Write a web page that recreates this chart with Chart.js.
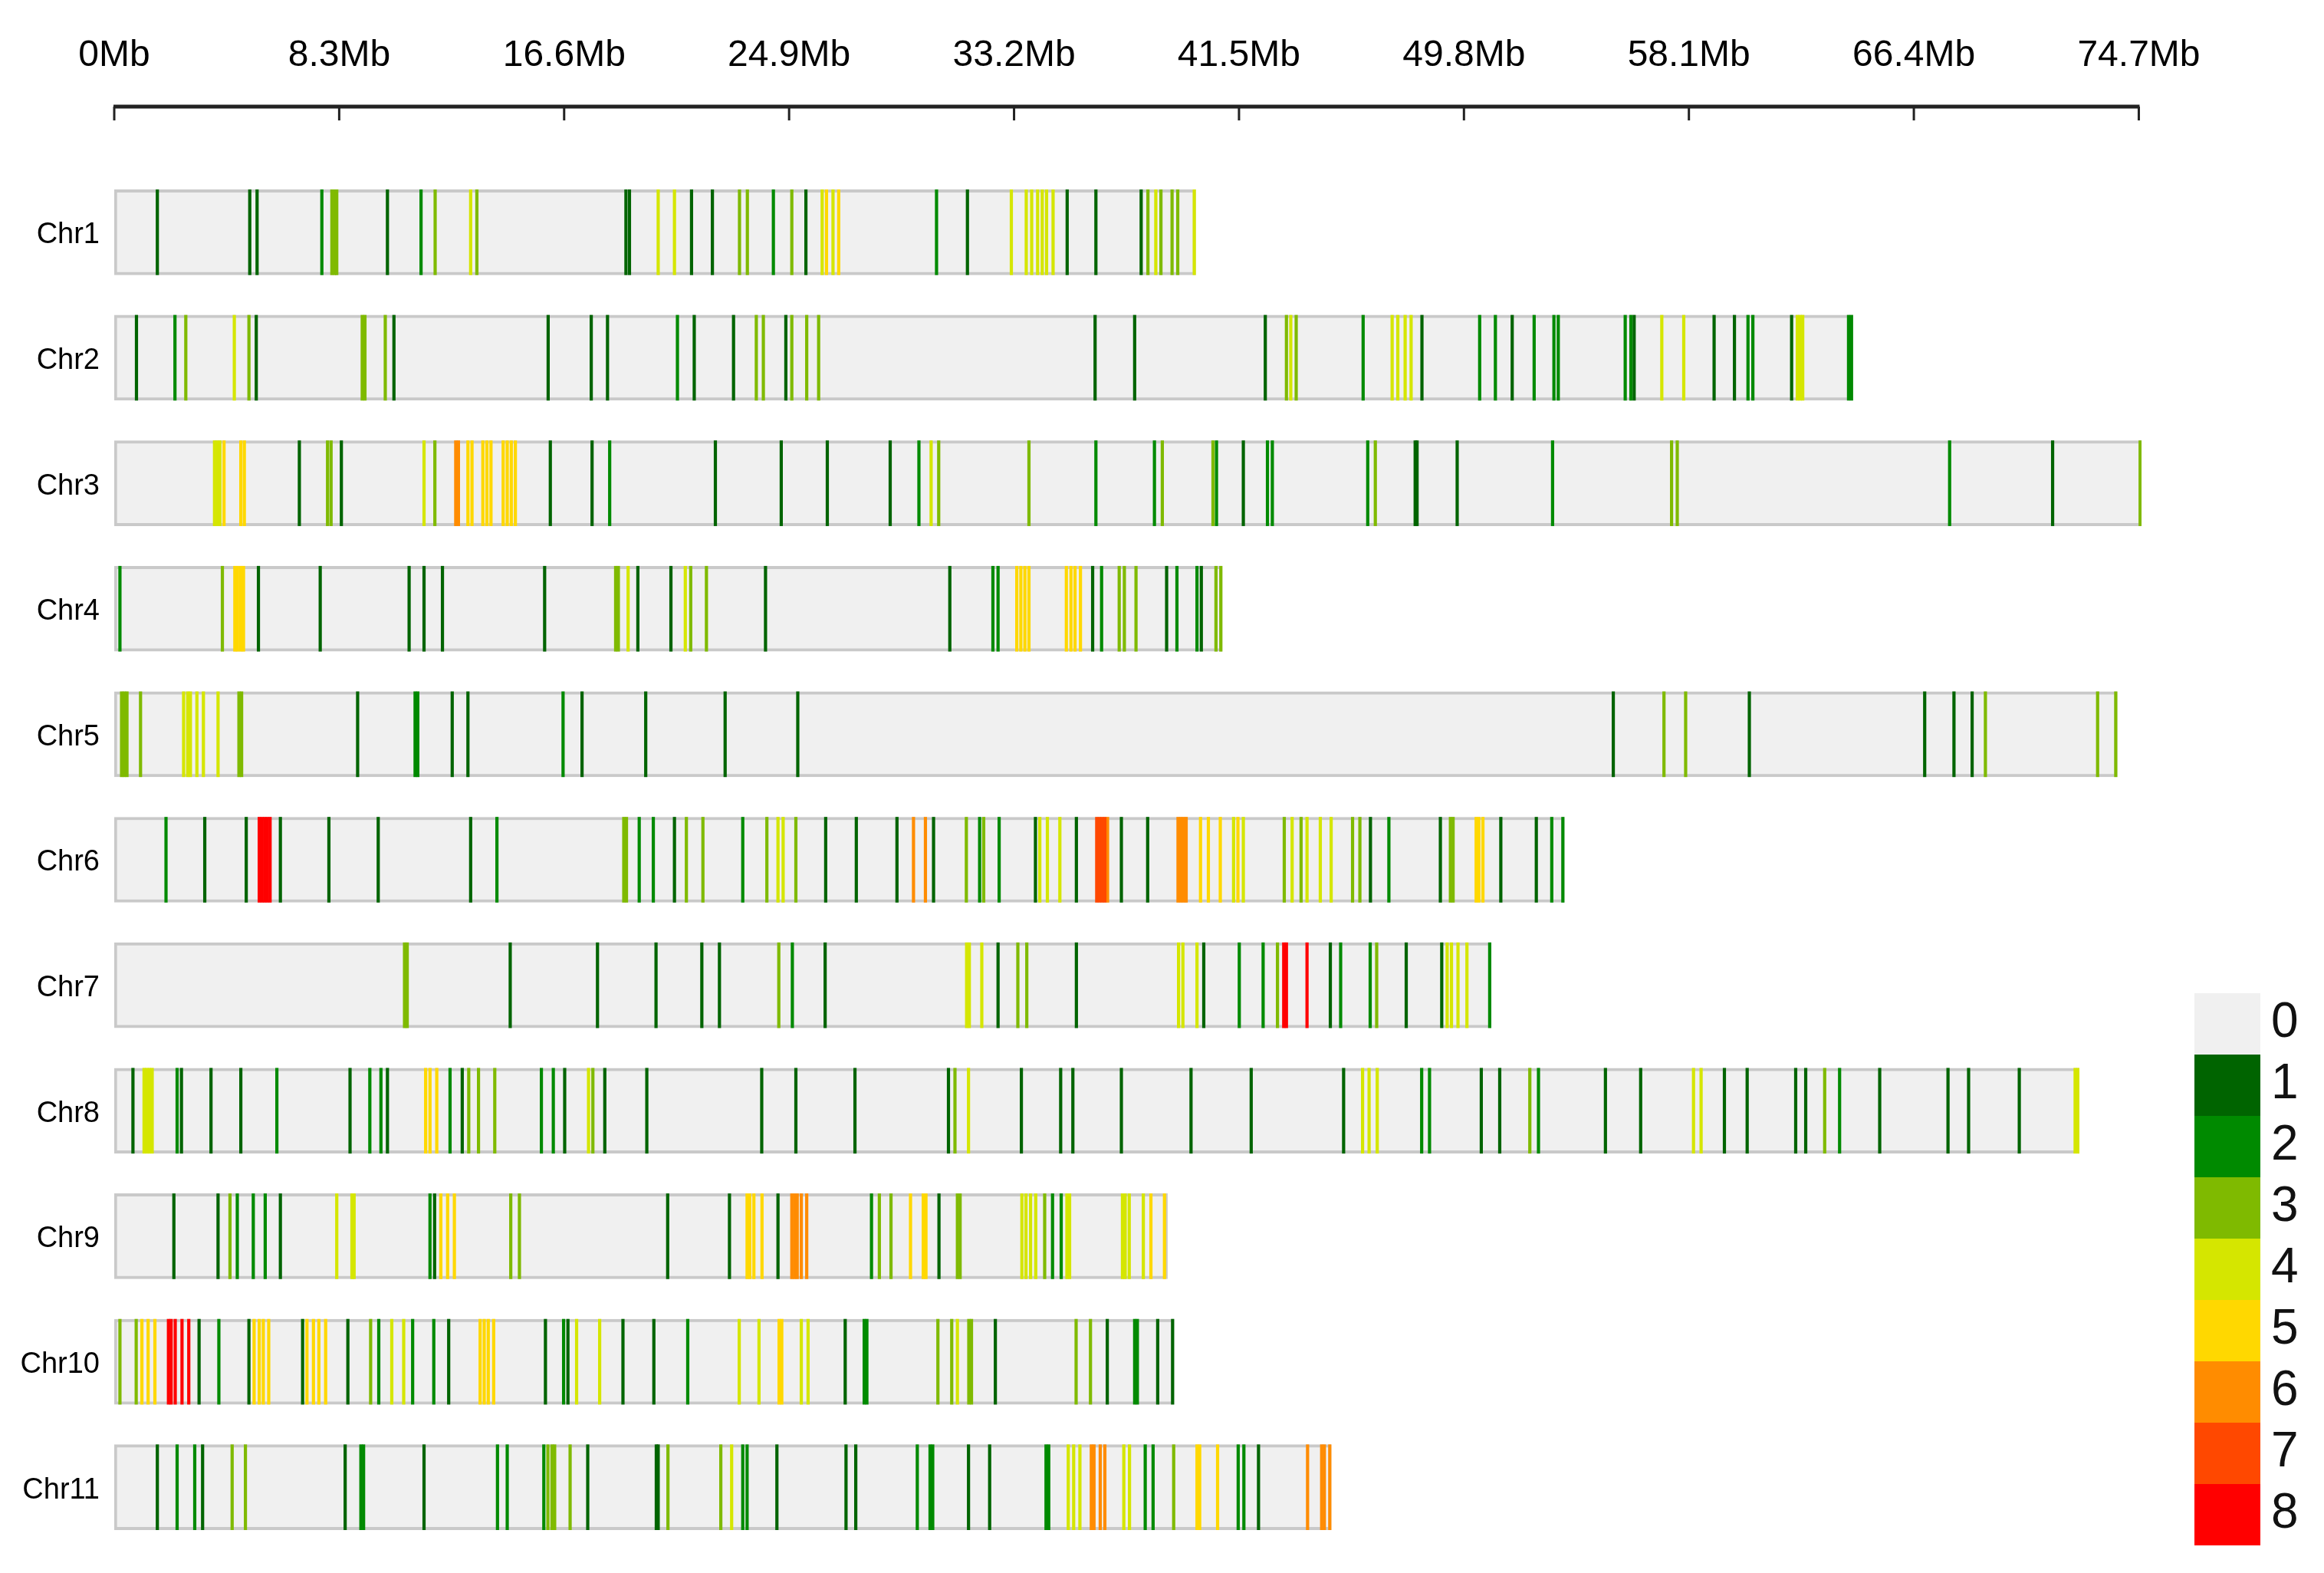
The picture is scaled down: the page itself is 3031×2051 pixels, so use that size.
<!DOCTYPE html>
<html>
<head>
<meta charset="utf-8">
<script src="https://cdn.jsdelivr.net/npm/chart.js@4.4.1/dist/chart.umd.min.js"></script>
<style>
  html, body { margin: 0; padding: 0; background: #fff; }
  #wrap { position: relative; width: 3031px; height: 2051px; }
  #legend { position: absolute; left: 2862px; top: 1295px; }
  .cell { position: absolute; left: 0; width: 86px; height: 80px; }
  .lab { position: absolute; left: 100px; width: 60px; height: 80px; line-height: 80px;
         font: 64px "Liberation Sans", Arial, sans-serif; color: #111; }
</style>
</head>
<body>
<div id="wrap">
  <canvas id="densityChart" width="3031" height="2051"></canvas>
  <div id="legend"></div>
</div>
<script>
// chromosome names and lengths (Mb)
var chromNames = ["Chr1", "Chr2", "Chr3", "Chr4", "Chr5", "Chr6", "Chr7", "Chr8", "Chr9", "Chr10", "Chr11"];
var chromLengths = [39.9, 64.15, 74.8, 40.88, 73.9, 53.5, 50.8, 72.5, 38.86, 39.1, 44.9];

// axis ticks
var tickValues = [0, 8.3, 16.6, 24.9, 33.2, 41.5, 49.8, 58.1, 66.4, 74.7];
var tickLabels = ["0Mb", "8.3Mb", "16.6Mb", "24.9Mb", "33.2Mb", "41.5Mb", "49.8Mb", "58.1Mb", "66.4Mb", "74.7Mb"];

// density levels and colours
var levels = [0, 1, 2, 3, 4, 5, 6, 7, 8];
var levelColors = ["#f0f0f0", "#006400", "#008a00", "#7fba00", "#d5e600", "#ffd800", "#ff8c00", "#ff4800", "#ff0000"];

// [position Mb, density level] for each chromosome
var chr1Marks = [[1.54,1],[4.95,1],[5.22,1],[7.61,2],[7.98,3],[8.08,3],[8.16,3],[10.03,1],[11.27,2],[11.79,3],[13.1,4],[13.33,3],[18.83,1],[18.96,1],[20.02,4],[20.62,4],[21.25,1],[22.02,1],[23.02,3],[23.31,3],[24.27,2],[24.95,3],[25.47,1],[26.07,4],[26.23,5],[26.47,4],[26.68,5],[30.29,2],[31.43,1],[33.05,4],[33.6,4],[33.8,4],[34.02,4],[34.19,4],[34.35,4],[34.59,4],[35.11,1],[36.17,1],[37.84,1],[38.09,3],[38.38,4],[38.57,3],[38.98,3],[39.19,3],[39.8,4]];
var chr2Marks = [[0.77,1],[2.19,2],[2.59,3],[4.38,4],[4.92,3],[5.19,1],[9.1,3],[9.2,3],[9.95,3],[10.27,1],[15.96,1],[17.55,1],[18.15,1],[20.73,2],[21.35,1],[22.8,1],[23.64,3],[23.9,3],[24.73,1],[24.95,3],[25.5,3],[25.94,3],[36.14,1],[37.6,1],[42.42,1],[43.2,3],[43.36,4],[43.56,3],[46.03,2],[47.1,4],[47.31,4],[47.58,4],[47.8,4],[48.2,1],[50.33,2],[50.91,2],[51.53,1],[52.34,2],[53.07,2],[53.23,2],[55.7,2],[55.91,2],[56.03,1],[57.05,4],[57.86,4],[58.98,1],[59.73,1],[60.23,2],[60.41,2],[61.84,1],[62.05,4],[62.15,4],[62.25,4],[63.94,2],[64.05,2]];
var chr3Marks = [[3.65,4],[3.75,4],[3.85,4],[4.0,5],[4.62,5],[4.75,5],[6.78,1],[7.82,3],[7.95,3],[8.33,1],[11.38,4],[11.78,3],[12.55,6],[12.65,6],[13.0,5],[13.15,5],[13.55,5],[13.7,5],[13.85,5],[14.3,5],[14.45,5],[14.6,5],[14.75,5],[16.04,1],[17.58,1],[18.23,2],[22.13,1],[24.56,1],[26.26,1],[28.58,1],[29.64,2],[30.09,4],[30.37,3],[33.7,3],[36.17,2],[38.33,2],[38.62,3],[40.49,3],[40.62,2],[41.61,1],[42.5,2],[42.68,2],[46.2,2],[46.48,3],[47.95,1],[48.02,1],[49.5,1],[53.02,2],[57.41,3],[57.62,3],[67.67,2],[71.47,1],[74.7,3]];
var chr4Marks = [[0.16,2],[3.94,3],[4.4,5],[4.5,5],[4.62,5],[4.72,5],[5.27,1],[7.55,1],[10.83,1],[11.38,1],[12.06,1],[15.83,1],[18.45,3],[18.55,3],[18.91,4],[19.27,1],[20.49,1],[21.02,4],[21.22,3],[21.8,3],[23.98,1],[30.78,1],[32.37,2],[32.56,2],[33.25,5],[33.4,5],[33.55,5],[33.7,5],[35.08,5],[35.25,5],[35.4,5],[35.6,5],[36.05,1],[36.38,2],[37.03,3],[37.22,3],[37.65,3],[38.78,1],[39.16,2],[39.9,2],[40.06,1],[40.6,3],[40.78,3]];
var chr5Marks = [[0.22,3],[0.32,3],[0.42,3],[0.92,3],[2.51,4],[2.66,4],[2.76,4],[3.0,4],[3.24,4],[3.78,4],[4.55,3],[4.65,3],[8.93,1],[11.05,2],[11.15,2],[12.42,1],[13.0,1],[16.51,2],[17.21,1],[19.56,1],[22.49,1],[25.17,1],[55.26,1],[57.13,3],[57.93,3],[60.28,1],[66.75,1],[67.83,1],[68.5,1],[68.99,3],[73.13,3],[73.8,3]];
var chr6Marks = [[1.86,2],[3.29,1],[4.82,1],[5.3,8],[5.4,8],[5.5,8],[5.6,8],[5.7,8],[6.08,1],[7.87,1],[9.69,1],[13.1,1],[14.07,2],[18.75,3],[18.85,3],[19.32,2],[19.84,2],[20.62,1],[21.06,3],[21.67,3],[23.14,2],[24.03,3],[24.44,4],[24.63,4],[25.1,3],[26.2,1],[27.33,1],[28.83,1],[29.44,6],[29.88,6],[30.18,1],[31.39,3],[31.88,2],[32.03,3],[32.6,2],[33.94,1],[34.1,4],[34.38,4],[34.84,4],[35.45,1],[36.2,7],[36.3,7],[36.4,7],[36.5,7],[36.6,6],[37.11,1],[38.08,1],[39.2,6],[39.3,6],[39.4,6],[39.5,6],[40.03,5],[40.32,5],[40.76,5],[41.25,4],[41.41,5],[41.61,4],[43.12,3],[43.41,4],[43.74,3],[43.96,4],[44.45,4],[44.85,4],[45.64,3],[45.91,3],[46.3,1],[46.98,2],[48.88,1],[49.25,3],[49.35,3],[50.2,5],[50.3,5],[50.45,5],[51.11,1],[52.42,1],[52.99,2],[53.4,2]];
var chr7Marks = [[10.66,3],[10.76,3],[14.56,1],[17.78,1],[19.94,1],[21.63,1],[22.28,1],[24.47,3],[24.97,2],[26.18,1],[31.4,4],[31.5,4],[31.96,4],[32.56,1],[33.29,3],[33.62,3],[35.45,1],[39.22,4],[39.38,4],[39.9,4],[40.15,1],[41.46,2],[42.34,2],[42.87,3],[43.1,8],[43.2,8],[43.96,8],[44.82,1],[45.2,2],[46.29,2],[46.53,3],[47.62,1],[48.93,1],[49.13,4],[49.29,4],[49.53,4],[49.86,4],[50.7,2]];
var chr8Marks = [[0.64,1],[1.05,4],[1.15,4],[1.25,4],[1.35,4],[2.27,2],[2.43,1],[3.52,1],[4.62,1],[5.95,2],[8.65,1],[9.38,2],[9.79,2],[10.03,1],[11.44,5],[11.6,5],[11.85,5],[12.34,2],[12.79,1],[13.03,3],[13.39,3],[13.99,3],[15.71,2],[16.15,2],[16.57,1],[17.45,4],[17.61,3],[18.05,1],[19.6,1],[23.84,1],[25.1,1],[27.28,1],[30.73,1],[30.97,3],[31.47,4],[33.42,1],[34.87,1],[35.32,1],[37.11,1],[39.68,1],[41.9,1],[45.31,1],[46.01,4],[46.25,4],[46.55,4],[48.19,2],[48.48,2],[50.39,1],[51.07,1],[52.18,3],[52.5,2],[54.97,1],[56.27,1],[58.22,4],[58.5,4],[59.36,1],[60.2,1],[61.99,1],[62.36,1],[63.06,3],[63.61,2],[65.09,1],[67.61,1],[68.37,1],[70.24,1],[72.3,4],[72.4,4]];
var chr9Marks = [[2.15,1],[3.78,1],[4.22,3],[4.49,2],[5.08,2],[5.52,2],[6.08,1],[8.16,4],[8.72,4],[8.8,4],[11.6,2],[11.77,1],[12.0,5],[12.25,5],[12.5,5],[14.58,3],[14.9,3],[20.37,1],[22.65,1],[23.3,5],[23.4,5],[23.55,5],[23.85,5],[24.44,1],[24.95,6],[25.05,6],[25.15,6],[25.3,6],[25.5,6],[27.89,2],[28.18,3],[28.61,3],[29.33,5],[29.8,5],[29.9,5],[30.38,1],[31.06,3],[31.16,3],[33.44,4],[33.59,4],[33.76,4],[33.95,4],[34.28,3],[34.57,2],[34.89,2],[35.1,4],[35.2,4],[37.15,4],[37.25,4],[37.4,4],[37.92,4],[38.2,5],[38.7,5]];
var chr10Marks = [[0.16,3],[0.76,3],[0.97,5],[1.2,5],[1.45,5],[1.95,8],[2.05,8],[2.2,8],[2.45,8],[2.7,8],[3.08,1],[3.81,2],[4.92,1],[5.11,5],[5.3,5],[5.45,5],[5.65,5],[6.9,1],[7.06,5],[7.3,5],[7.5,5],[7.75,5],[8.57,1],[9.41,3],[9.71,2],[10.19,4],[10.63,4],[10.96,2],[11.74,2],[12.29,1],[13.45,5],[13.6,5],[13.75,5],[13.95,5],[15.86,1],[16.53,2],[16.69,1],[17.01,4],[17.86,4],[18.72,1],[19.86,1],[21.11,2],[23.01,4],[23.74,4],[24.48,5],[24.58,5],[25.3,4],[25.55,4],[26.92,1],[27.62,2],[27.72,2],[30.34,3],[30.85,3],[31.06,4],[31.48,3],[31.58,3],[32.46,1],[35.44,3],[35.97,3],[36.59,1],[37.6,2],[37.7,2],[38.45,1],[39.0,1]];
var chr11Marks = [[1.54,1],[2.27,2],[2.92,2],[3.21,1],[4.3,3],[4.79,3],[8.47,1],[9.05,2],[9.15,2],[11.38,1],[14.09,2],[14.45,2],[15.8,2],[15.95,3],[16.1,3],[16.2,3],[16.77,3],[17.42,1],[19.95,1],[20.02,1],[20.38,3],[22.33,3],[22.73,4],[23.14,2],[23.3,2],[24.4,1],[26.95,1],[27.31,1],[29.58,2],[30.05,2],[30.15,2],[31.47,1],[32.25,1],[34.33,2],[34.43,2],[35.15,4],[35.35,4],[35.58,4],[36.0,6],[36.1,6],[36.33,6],[36.5,6],[37.2,4],[37.41,4],[37.99,2],[38.28,2],[39.04,3],[39.9,5],[40.0,5],[40.66,5],[41.42,2],[41.63,2],[42.17,1],[43.98,6],[44.5,6],[44.6,6],[44.8,6]];

var allMarks = [chr1Marks, chr2Marks, chr3Marks, chr4Marks, chr5Marks, chr6Marks, chr7Marks, chr8Marks, chr9Marks, chr10Marks, chr11Marks];

var binSize = 0.1;
var barThick = 111;

document.addEventListener("DOMContentLoaded", function () {
    Chart.defaults.font.family = "'Liberation Sans', Arial, sans-serif";
    Chart.defaults.color = "#000";

    var datasets = [];
    // chromosome bodies
    datasets.push({
        label: "chrom",
        data: chromLengths.map(function (len, i) { return { x: [0, len], y: chromNames[i] }; }),
        backgroundColor: levelColors[0],
        borderColor: "#c9c9c9",
        borderWidth: 4,
        borderSkipped: false,
        barThickness: barThick,
        grouped: false,
        order: 20
    });
    // density marks, one dataset per level
    for (var L = 1; L < levels.length; L++) {
        var pts = [];
        allMarks.forEach(function (marks, i) {
            marks.forEach(function (m) {
                if (m[1] === levels[L]) pts.push({ x: [m[0], m[0] + binSize], y: chromNames[i] });
            });
        });
        datasets.push({
            label: String(levels[L]),
            data: pts,
            backgroundColor: levelColors[L],
            borderWidth: 0,
            barThickness: barThick,
            grouped: false,
            order: 10 - L
        });
    }

    // axis line with downward ticks
    var topAxis = {
        id: "topAxis",
        afterDraw: function (chart) {
            var c = chart.ctx, xs = chart.scales.x;
            var yLine = chart.chartArea.top - 82;
            c.save();
            c.strokeStyle = "#222";
            c.lineWidth = 5;
            c.beginPath();
            c.moveTo(xs.getPixelForValue(tickValues[0]) - 1, yLine);
            c.lineTo(xs.getPixelForValue(tickValues[tickValues.length - 1]) + 1, yLine);
            c.stroke();
            c.lineWidth = 3;
            tickValues.forEach(function (v) {
                var px = xs.getPixelForValue(v);
                c.beginPath();
                c.moveTo(px, yLine);
                c.lineTo(px, yLine + 18);
                c.stroke();
            });
            c.restore();
        }
    };

    var ctx = document.getElementById("densityChart").getContext("2d");
    new Chart(ctx, {
        type: "bar",
        data: { labels: chromNames, datasets: datasets },
        plugins: [topAxis],
        options: {
            indexAxis: "y",
            responsive: false,
            devicePixelRatio: 1,
            animation: false,
            layout: { padding: { left: 0, right: 238, top: 0, bottom: 30 } },
            plugins: { legend: { display: false }, tooltip: { enabled: false } },
            scales: {
                x: {
                    position: "top",
                    min: 0,
                    max: 74.8,
                    grid: { display: false, drawTicks: false },
                    border: { display: false },
                    afterBuildTicks: function (scale) {
                        scale.ticks = tickValues.map(function (v) { return { value: v }; });
                    },
                    afterFit: function (scale) { scale.height = 221; },
                    ticks: {
                        autoSkip: false,
                        maxRotation: 0,
                        padding: 0,
                        font: { size: 48, lineHeight: 6.1667 },
                        callback: function (v, i) { return tickLabels[i]; }
                    }
                },
                y: {
                    grid: { display: true, drawOnChartArea: false, drawTicks: true, tickLength: 19, color: "rgba(0,0,0,0)" },
                    border: { display: false },
                    afterFit: function (scale) { scale.width = 149; },
                    ticks: { padding: 0, labelOffset: 4, font: { size: 38 } }
                }
            }
        }
    });

    // colour key
    var lg = document.getElementById("legend");
    levels.forEach(function (lv, i) {
        var cell = document.createElement("div");
        cell.className = "cell";
        cell.style.top = (i * 80) + "px";
        cell.style.background = levelColors[i];
        lg.appendChild(cell);
        var lab = document.createElement("div");
        lab.className = "lab";
        lab.style.top = (i * 80 - 2) + "px";
        lab.textContent = lv;
        lg.appendChild(lab);
    });
});
</script>
</body>
</html>
